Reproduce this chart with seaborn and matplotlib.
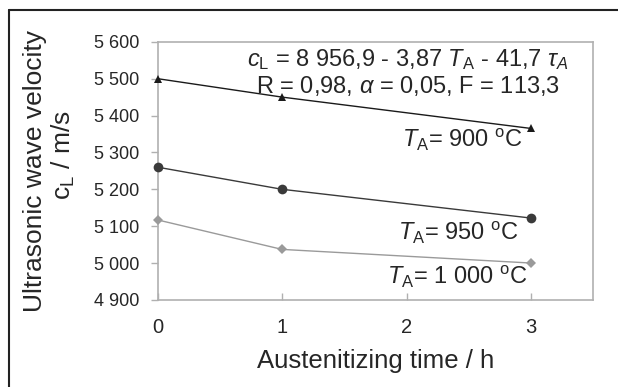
import pandas as pd
import seaborn as sns
import matplotlib.pyplot as plt
from matplotlib.lines import Line2D

# austenitizing time in hours
times = [0, 1, 3]

# ultrasonic velocity for each austenitizing temperature
v_900 = [5500, 5450, 5365]
v_950 = [5260, 5200, 5122]
v_1000 = [5117, 5037, 5000]

series_names = ['900', '950', '1000']
y_ticks = [4900, 5000, 5100, 5200, 5300, 5400, 5500, 5600]
y_tick_labels = ['4 900', '5 000', '5 100', '5 200', '5 300', '5 400', '5 500', '5 600']
x_ticks = [0, 1, 2, 3]

sns.set_style('white')
plt.rcParams['font.family'] = ['Liberation Sans', 'DejaVu Sans']
plt.rcParams['mathtext.fontset'] = 'custom'
plt.rcParams['mathtext.rm'] = 'Liberation Sans'
plt.rcParams['mathtext.it'] = 'Liberation Sans:italic'
plt.rcParams['mathtext.bf'] = 'Liberation Sans:bold'

rows = []
for name, vals in zip(series_names, [v_900, v_950, v_1000]):
    for t, v in zip(times, vals):
        rows.append({'time': t, 'velocity': v, 'TA': name})
df = pd.DataFrame(rows)

palette = {'900': '#1a1a1a', '950': '#3a3a3a', '1000': '#9a9a9a'}
markers = {'900': '^', '950': 'o', '1000': 'D'}
sizes = {'900': 6, '950': 7, '1000': 5}

fig = plt.figure(figsize=(6.18, 3.87), dpi=100)
ax = fig.add_axes([0.255, 0.225, 0.705, 0.667])

for name in series_names:
    sub = df[df['TA'] == name]
    sns.lineplot(data=sub, x='time', y='velocity', ax=ax, color=palette[name],
                 marker=markers[name], markersize=sizes[name], markeredgewidth=0,
                 linewidth=1.0, legend=False, clip_on=False, zorder=3)

ax.set_xlim(0, 3.5)
ax.set_ylim(4900, 5600)
ax.set_xticks(x_ticks)
ax.set_yticks(y_ticks)
ax.set_yticklabels(y_tick_labels)

for s in ax.spines.values():
    s.set_color('#b0b0b0')
    s.set_linewidth(1.2)
ax.tick_params(axis='y', direction='out', length=5, width=1, color='#b0b0b0',
               labelsize=13, pad=8)
ax.tick_params(axis='x', direction='in', length=5, width=1, color='#b0b0b0',
               labelsize=14.5, pad=13)
ax.tick_params(left=True, bottom=True)

ax.set_xlabel('Austenitizing time / h', fontsize=18.5, labelpad=9)
ax.set_ylabel('')
# two-line y label: each line placed on its own
ax.text(-0.281, 0.5, 'Ultrasonic wave velocity', transform=ax.transAxes,
        rotation=90, fontsize=19, ha='center', va='center')
ax.text(-0.217, 0.56, r'$\mathregular{c_L}$ / m/s', transform=ax.transAxes,
        rotation=90, fontsize=19, ha='center', va='center')

ax.text(2.01, 5551, r'$c_\mathregular{L}$ = 8 956,9 - 3,87 $T_\mathregular{A}$ - 41,7 $\tau_A$',
        fontsize=17, ha='center', va='center')
ax.text(2.01, 5481, r'R = 0,98, $\alpha$ = 0,05, F = 113,3',
        fontsize=17, ha='center', va='center')

ax.text(2.93, 5334, r'$T_\mathregular{A}$= 900 $^\mathregular{o}$C', fontsize=17,
        ha='right', va='center')
ax.text(2.90, 5082, r'$T_\mathregular{A}$= 950 $^\mathregular{o}$C', fontsize=17,
        ha='right', va='center')
ax.text(2.97, 4962, r'$T_\mathregular{A}$= 1 000 $^\mathregular{o}$C', fontsize=17,
        ha='right', va='center')

# frame lines of the cropped screenshot (top and left only)
fig.add_artist(Line2D([9 / 618, 9 / 618], [0, 1 - 10 / 387], color='#222222', lw=1.5))
fig.add_artist(Line2D([9 / 618, 1], [1 - 10 / 387, 1 - 10 / 387], color='#222222', lw=1.5))

fig.savefig('out.png', dpi=100)
